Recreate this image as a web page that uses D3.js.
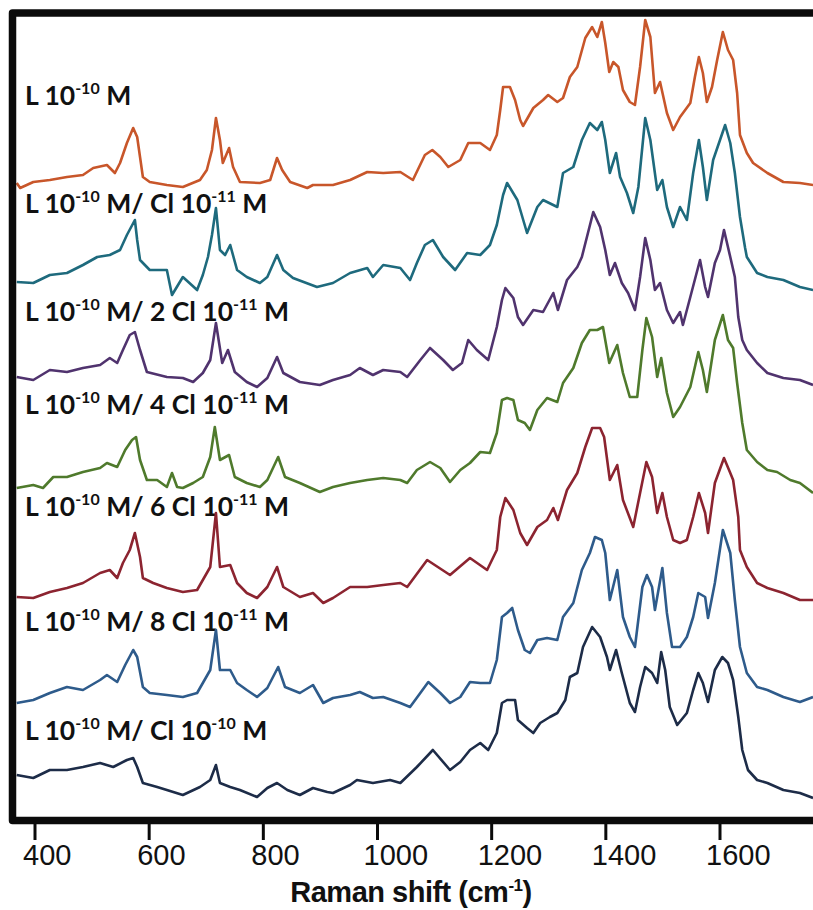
<!DOCTYPE html>
<html>
<head>
<meta charset="utf-8">
<script src="https://cdn.jsdelivr.net/npm/d3@7"></script>
<style>
  body { margin: 0; background: #fff; }
</style>
</head>
<body>
<div id="chart"></div>
<script>
// Raman spectra, [wavenumber cm-1, intensity a.u. (stacked with offset)]
const specL = [
  [368, 637], [374, 632], [397, 638], [426, 640], [456, 643], [484, 645], [502, 652], [526, 655], [540, 647], [549, 657],
  [561, 677], [572, 692], [579, 683], [584, 663], [589, 643], [601, 638], [631, 635], [659, 633], [689, 640], [701, 650],
  [710, 670], [717, 702], [724, 680], [729, 657], [740, 672], [747, 653], [759, 638], [794, 637], [812, 640], [824, 662],
  [833, 650], [847, 638], [877, 632], [887, 635], [922, 635], [952, 640], [982, 648], [1010, 647], [1040, 648], [1062, 640],
  [1083, 665], [1096, 670], [1110, 663], [1124, 653], [1145, 660], [1159, 677], [1180, 677], [1197, 670], [1209, 685], [1215, 710],
  [1220, 733], [1232, 733], [1241, 720], [1250, 700], [1255, 694], [1273, 712], [1290, 720], [1299, 725], [1315, 718], [1325, 722],
  [1337, 743], [1350, 753], [1364, 782], [1376, 793], [1385, 783], [1393, 798], [1399, 777], [1406, 748], [1413, 758], [1422, 753],
  [1430, 730], [1442, 718], [1451, 715], [1460, 753], [1469, 800], [1478, 783], [1486, 727], [1495, 738], [1507, 707], [1518, 690],
  [1530, 703], [1548, 717], [1556, 743], [1563, 763], [1570, 747], [1577, 718], [1586, 733], [1595, 760], [1605, 788], [1614, 770],
  [1623, 760], [1630, 727], [1635, 685], [1647, 667], [1658, 657], [1683, 647], [1711, 638], [1740, 637], [1763, 635]
]
const specCl1 = [
  [368, 538], [397, 537], [426, 545], [456, 547], [484, 555], [509, 563], [531, 565], [549, 570], [561, 585], [575, 600],
  [579, 580], [584, 560], [601, 550], [631, 550], [640, 525], [659, 543], [684, 530], [694, 545], [703, 563], [710, 585],
  [717, 612], [724, 570], [733, 565], [742, 575], [754, 550], [771, 543], [794, 537], [807, 543], [824, 565], [835, 550],
  [852, 542], [894, 533], [922, 537], [952, 547], [982, 552], [992, 543], [1010, 555], [1040, 552], [1057, 540], [1069, 557],
  [1083, 575], [1097, 580], [1115, 563], [1136, 550], [1157, 567], [1180, 565], [1197, 575], [1209, 595], [1220, 625], [1227, 637],
  [1245, 620], [1262, 587], [1280, 613], [1290, 620], [1315, 613], [1325, 647], [1343, 653], [1358, 680], [1372, 697], [1385, 690],
  [1393, 698], [1399, 680], [1407, 647], [1418, 667], [1425, 643], [1437, 627], [1448, 607], [1457, 633], [1469, 702], [1478, 680],
  [1490, 630], [1499, 640], [1507, 613], [1518, 593], [1530, 613], [1542, 600], [1553, 647], [1563, 680], [1570, 653], [1577, 620],
  [1588, 660], [1600, 680], [1609, 695], [1618, 677], [1626, 647], [1635, 603], [1644, 572], [1647, 563], [1665, 547], [1683, 543],
  [1711, 540], [1740, 533], [1763, 530]
]
const specCl2 = [
  [368, 443], [397, 440], [426, 450], [456, 448], [484, 452], [514, 455], [531, 462], [544, 457], [554, 470], [566, 485],
  [575, 488], [584, 470], [596, 448], [631, 443], [659, 442], [677, 438], [694, 447], [707, 460], [717, 497], [728, 457],
  [738, 470], [750, 448], [771, 438], [789, 433], [807, 442], [824, 463], [835, 447], [864, 438], [899, 435], [922, 440],
  [952, 445], [969, 452], [992, 445], [1010, 450], [1040, 448], [1052, 443], [1075, 460], [1092, 472], [1115, 460], [1132, 450],
  [1148, 457], [1159, 480], [1174, 470], [1194, 460], [1209, 493], [1218, 520], [1224, 532], [1238, 522], [1246, 503], [1255, 495],
  [1273, 510], [1290, 508], [1308, 527], [1316, 510], [1332, 540], [1350, 553], [1358, 563], [1378, 608], [1390, 593], [1399, 570],
  [1407, 545], [1416, 557], [1428, 537], [1439, 527], [1451, 510], [1460, 543], [1469, 582], [1478, 560], [1486, 530], [1495, 537],
  [1507, 510], [1518, 497], [1530, 508], [1535, 495], [1548, 523], [1565, 560], [1574, 533], [1579, 523], [1591, 557], [1600, 570],
  [1607, 590], [1618, 563], [1626, 543], [1632, 503], [1639, 480], [1647, 470], [1665, 457], [1683, 447], [1711, 442], [1740, 440],
  [1763, 435]
]
const specCl4 = [
  [368, 332], [397, 335], [414, 332], [432, 343], [456, 343], [484, 348], [514, 352], [526, 357], [544, 353], [558, 370],
  [570, 380], [577, 383], [584, 360], [596, 340], [614, 340], [631, 333], [640, 347], [649, 333], [659, 332], [677, 337],
  [694, 343], [707, 363], [715, 393], [724, 360], [740, 365], [750, 343], [771, 337], [794, 333], [807, 340], [826, 363],
  [838, 343], [864, 337], [899, 328], [922, 333], [952, 337], [982, 340], [1010, 342], [1040, 340], [1052, 337], [1069, 350],
  [1092, 358], [1110, 352], [1127, 338], [1145, 350], [1162, 357], [1180, 368], [1197, 367], [1209, 387], [1218, 420], [1227, 422],
  [1238, 420], [1246, 400], [1258, 397], [1267, 390], [1280, 410], [1297, 422], [1315, 418], [1325, 437], [1343, 452], [1358, 477],
  [1372, 490], [1385, 490], [1395, 493], [1406, 457], [1420, 475], [1430, 447], [1442, 423], [1455, 423], [1464, 470], [1471, 502],
  [1481, 483], [1490, 443], [1497, 462], [1507, 427], [1518, 403], [1530, 413], [1548, 433], [1562, 468], [1570, 450], [1577, 428],
  [1591, 480], [1605, 505], [1614, 480], [1623, 472], [1630, 437], [1639, 397], [1647, 370], [1665, 358], [1683, 350], [1700, 348],
  [1723, 340], [1740, 337], [1763, 327]
]
const specCl6 = [
  [368, 223], [397, 222], [426, 228], [456, 232], [484, 237], [514, 247], [531, 250], [544, 242], [554, 257], [566, 270],
  [575, 287], [584, 263], [589, 242], [607, 237], [631, 232], [659, 228], [684, 230], [694, 240], [707, 253], [717, 307],
  [724, 253], [742, 255], [754, 237], [771, 227], [789, 222], [807, 233], [824, 253], [835, 233], [864, 223], [887, 227],
  [905, 217], [922, 222], [952, 233], [982, 233], [1010, 235], [1040, 237], [1052, 233], [1087, 260], [1127, 245], [1162, 262],
  [1192, 250], [1209, 270], [1215, 303], [1224, 322], [1238, 310], [1250, 287], [1262, 275], [1280, 293], [1297, 300], [1308, 312],
  [1316, 300], [1332, 330], [1350, 347], [1364, 373], [1376, 392], [1390, 392], [1397, 383], [1407, 340], [1420, 355], [1430, 320],
  [1448, 293], [1460, 327], [1471, 358], [1481, 343], [1490, 307], [1499, 327], [1507, 303], [1518, 280], [1530, 277], [1542, 280],
  [1553, 303], [1563, 327], [1574, 307], [1579, 287], [1591, 337], [1607, 362], [1618, 347], [1623, 340], [1632, 303], [1635, 270],
  [1647, 253], [1665, 237], [1683, 232], [1711, 227], [1740, 220], [1763, 220]
]
const specCl8 = [
  [368, 117], [397, 120], [426, 127], [456, 133], [484, 130], [514, 140], [526, 145], [544, 138], [558, 155], [572, 170],
  [579, 163], [589, 133], [601, 127], [631, 125], [659, 123], [684, 127], [694, 137], [707, 150], [717, 190], [724, 150],
  [742, 150], [754, 137], [771, 130], [789, 123], [807, 132], [826, 153], [838, 133], [864, 127], [887, 135], [905, 117],
  [922, 122], [952, 125], [969, 128], [992, 122], [1010, 123], [1040, 117], [1057, 113], [1075, 127], [1089, 138], [1110, 127],
  [1127, 117], [1145, 123], [1162, 138], [1180, 137], [1197, 137], [1209, 160], [1218, 203], [1227, 207], [1236, 212], [1246, 190],
  [1258, 170], [1267, 167], [1280, 180], [1297, 182], [1315, 180], [1325, 203], [1343, 217], [1358, 250], [1372, 267], [1381, 283],
  [1393, 280], [1399, 267], [1407, 220], [1420, 250], [1430, 203], [1442, 183], [1451, 173], [1464, 233], [1472, 245], [1481, 233],
  [1486, 210], [1499, 252], [1507, 207], [1516, 173], [1530, 173], [1542, 183], [1553, 203], [1562, 227], [1574, 223], [1579, 202],
  [1591, 237], [1605, 290], [1618, 267], [1626, 220], [1635, 173], [1647, 147], [1665, 133], [1683, 130], [1711, 123], [1740, 118],
  [1763, 123]
]
const specCl10 = [
  [368, 45], [397, 42], [426, 50], [456, 50], [484, 53], [514, 57], [537, 53], [561, 60], [572, 62], [579, 53],
  [589, 37], [614, 33], [631, 30], [659, 25], [689, 33], [707, 40], [717, 55], [724, 37], [742, 33], [759, 30],
  [789, 23], [807, 32], [824, 37], [842, 30], [864, 25], [887, 32], [912, 28], [922, 27], [952, 35], [964, 40],
  [992, 37], [1022, 40], [1040, 37], [1069, 53], [1097, 70], [1127, 50], [1145, 58], [1162, 70], [1180, 77], [1194, 70],
  [1209, 87], [1218, 117], [1227, 120], [1241, 120], [1246, 100], [1262, 92], [1273, 87], [1285, 97], [1302, 103], [1315, 107],
  [1329, 120], [1337, 143], [1350, 147], [1360, 173], [1376, 193], [1390, 183], [1402, 163], [1407, 150], [1418, 170], [1428, 147],
  [1442, 117], [1451, 108], [1460, 133], [1469, 153], [1481, 147], [1490, 137], [1497, 168], [1504, 150], [1512, 113], [1525, 95],
  [1542, 107], [1553, 130], [1562, 147], [1570, 137], [1579, 118], [1591, 150], [1604, 163], [1614, 157], [1623, 140], [1632, 103],
  [1639, 70], [1649, 50], [1665, 40], [1683, 37], [1711, 30], [1740, 27], [1763, 22]
]

const spectra = [specL, specCl1, specCl2, specCl4, specCl6, specCl8, specCl10]
const seriesLabels = [
  'L 10^{-10} M',
  'L 10^{-10} M/ Cl 10^{-11} M',
  'L 10^{-10} M/ 2 Cl 10^{-11} M',
  'L 10^{-10} M/ 4 Cl 10^{-11} M',
  'L 10^{-10} M/ 6 Cl 10^{-11} M',
  'L 10^{-10} M/ 8 Cl 10^{-11} M',
  'L 10^{-10} M/ Cl 10^{-10} M'
]
// intensity level where each label sits
const labelLevels = [715, 607, 499, 406, 304, 189, 80]
const seriesColors = ['#c8562a', '#1e6a7d', '#50336e', '#4f7a2c', '#8c2430', '#2e5b8b', '#1d2c48']
const xTicks = [400, 600, 800, 1000, 1200, 1400, 1600]

const width = 813
const height = 910

const x = d3.scaleLinear().domain([400, 1600]).range([35, 720])
const y = d3.scaleLinear().domain([0, 800]).range([820, 20])

const svg = d3.select('#chart')
  .append('svg')
  .attr('width', width)
  .attr('height', height)
  .style('display', 'block')

svg.append('defs')
  .append('clipPath')
  .attr('id', 'plot-clip')
  .append('rect')
  .attr('x', 16)
  .attr('y', 17)
  .attr('width', width - 16)
  .attr('height', 800)

// series labels, bold with superscripts
const addRich = (sel, str, size, supSize, shift) => {
  const parts = str.split(/\^\{([^}]*)\}/)
  let raised = false
  parts.forEach((p, i) => {
    if (!p) return
    const sup = i % 2 === 1
    const t = sel.append('tspan').text(p).attr('font-size', sup ? supSize : size)
    if (sup && !raised) { t.attr('dy', -shift); raised = true }
    if (!sup && raised) { t.attr('dy', shift); raised = false }
  })
}

const labelG = svg.append('g')
seriesLabels.forEach((label, i) => {
  const t = labelG.append('text')
    .attr('x', 25)
    .attr('y', y(labelLevels[i]))
    .attr('font-family', 'Lato, "Open Sans", sans-serif')
    .attr('font-weight', 'bold')
    .attr('fill', '#111')
  addRich(t, label, 26.5, 16, 11)
})

const line = d3.line()
  .x((d) => x(d[0]))
  .y((d) => y(d[1]))

svg.append('g')
  .attr('clip-path', 'url(#plot-clip)')
  .selectAll('path')
  .data(spectra)
  .join('path')
  .attr('d', line)
  .attr('fill', 'none')
  .attr('stroke', (d, i) => seriesColors[i])
  .attr('stroke-width', 2.6)
  .attr('stroke-linejoin', 'round')

// frame (open on the right)
svg.append('path')
  .attr('d', `M${width + 5},13 H12.5 V820.5 H${width + 5}`)
  .attr('fill', 'none')
  .attr('stroke', '#0b0b0b')
  .attr('stroke-width', 7.5)
  .attr('stroke-linejoin', 'round')

const axisG = svg.append('g')
axisG.selectAll('line')
  .data(xTicks)
  .join('line')
  .attr('x1', (d) => x(d))
  .attr('x2', (d) => x(d))
  .attr('y1', 824)
  .attr('y2', 840)
  .attr('stroke', '#0b0b0b')
  .attr('stroke-width', 3)

axisG.selectAll('text')
  .data(xTicks)
  .join('text')
  .attr('x', (d) => x(d) - (d >= 1000 ? 14 : 12))
  .attr('y', 865)
  .attr('font-family', '"Liberation Sans", Arial, sans-serif')
  .attr('font-size', 29)
  .attr('fill', '#111')
  .text((d) => d)

const title = svg.append('text')
  .attr('x', 411)
  .attr('y', 902)
  .attr('text-anchor', 'middle')
  .attr('font-family', '"Liberation Sans", Arial, sans-serif')
  .attr('font-weight', 'bold')
  .attr('letter-spacing', -0.5)
  .attr('fill', '#111')
addRich(title, 'Raman shift (cm^{-1})', 29, 17, 11)
</script>
</body>
</html>
